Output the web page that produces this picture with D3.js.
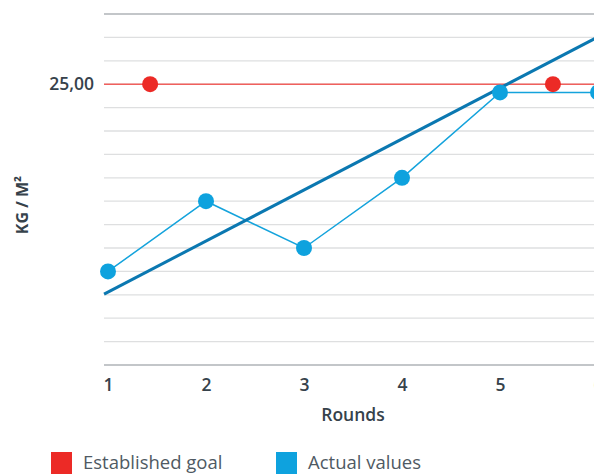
<!DOCTYPE html>
<html>
<head>
<meta charset="utf-8">
<script src="https://cdn.jsdelivr.net/npm/d3@7"></script>
<style>
  html, body { margin: 0; padding: 0; background: #fff; }
  svg { display: block; font-family: "Open Sans", sans-serif; }
</style>
</head>
<body>
<svg id="chart" width="594" height="474"></svg>
<script>
const rounds = [1, 2, 3, 4, 5, 6];
const actualValues = [17, 20, 18, 21, 24.65, 24.65];
const goalValue = 25;
const goalMarkerRounds = [1.43, 5.54];
const trendRounds = [0.96, 6];
const trendValues = [16.03, 27.02];
const gridValues = d3.range(13, 29, 1);
const yTickValues = [25];
const yTickLabels = ["25,00"];
const legendLabels = ["Established goal", "Actual values"];
const legendColors = ["#ec2a26", "#0ea2de"];

const svg = d3.select("#chart");
const x = d3.scaleLinear().domain([1, 6]).range([108, 598]);
const y = d3.scaleLinear().domain([13, 28]).range([365, 14]);
const plotLeft = 104, plotRight = 640;

// gridlines
svg.append("g").selectAll("line").data(gridValues).join("line")
  .attr("x1", plotLeft).attr("x2", plotRight)
  .attr("y1", d => y(d)).attr("y2", d => y(d))
  .attr("stroke", d => (d === 13 || d === 28) ? "#c3c6c9" : "#dedfe0")
  .attr("stroke-width", d => (d === 13 || d === 28) ? 2 : 1.3);

// y tick labels
const yAxis = d3.axisLeft(y).tickValues(yTickValues)
  .tickFormat((d, i) => yTickLabels[i]).tickSize(0).tickPadding(10);
const ya = svg.append("g").attr("transform", `translate(${plotLeft},0)`).call(yAxis);
ya.select(".domain").remove();
ya.selectAll("text").attr("font-size", 17.5).attr("font-weight", 600)
  .attr("fill", "#36424b").attr("font-family", "Open Sans");

// x tick labels
const xAxis = d3.axisBottom(x).tickValues(rounds).tickFormat(d3.format("d")).tickSize(0).tickPadding(14);
const xa = svg.append("g").attr("transform", `translate(0,365)`).call(xAxis);
xa.select(".domain").remove();
xa.selectAll("text").attr("font-size", 17.5).attr("font-weight", 600)
  .attr("fill", "#36424b").attr("font-family", "Open Sans");

// axis titles
svg.append("text").attr("x", (x(1) + x(6)) / 2).attr("y", 421).attr("text-anchor", "middle")
  .attr("font-size", 17.5).attr("font-weight", 600).attr("fill", "#36424b").text("Rounds");
svg.append("text").attr("transform", "translate(28,205) rotate(-90)").attr("text-anchor", "middle")
  .attr("font-size", 16).attr("font-weight", 700).attr("fill", "#36424b").text("KG / M²");

// goal line
svg.append("line").attr("x1", plotLeft).attr("x2", plotRight)
  .attr("y1", y(goalValue)).attr("y2", y(goalValue))
  .attr("stroke", "#f0605d").attr("stroke-width", 1.6);

// actual values line
const actualData = rounds.map((r, i) => [r, actualValues[i]]);
svg.append("path").datum(actualData)
  .attr("d", d3.line().x(d => x(d[0])).y(d => y(d[1])))
  .attr("fill", "none").attr("stroke", "#14a3dc").attr("stroke-width", 1.5);

// trend line
const trendData = trendRounds.map((r, i) => [r, trendValues[i]]);
svg.append("path").datum(trendData)
  .attr("d", d3.line().x(d => x(d[0])).y(d => y(d[1])))
  .attr("fill", "none").attr("stroke", "#0b78b1").attr("stroke-width", 3);

// goal markers
svg.append("g").selectAll("circle").data(goalMarkerRounds).join("circle")
  .attr("cx", d => x(d)).attr("cy", y(goalValue)).attr("r", 8)
  .attr("fill", "#ec2a26");

// actual markers
svg.append("g").selectAll("circle").data(actualData).join("circle")
  .attr("cx", d => x(d[0])).attr("cy", d => y(d[1])).attr("r", 8)
  .attr("fill", "#0ea2de");

// legend
const lg = svg.append("g");
const legendX = [51, 276];
legendLabels.forEach((lab, i) => {
  lg.append("rect").attr("x", legendX[i]).attr("y", 452).attr("width", 21).attr("height", 24)
    .attr("fill", legendColors[i]);
  lg.append("text").attr("x", legendX[i] + 32).attr("y", 469)
    .attr("font-size", 18.5).attr("fill", "#4f5a63").text(lab);
});
</script>
</body>
</html>
